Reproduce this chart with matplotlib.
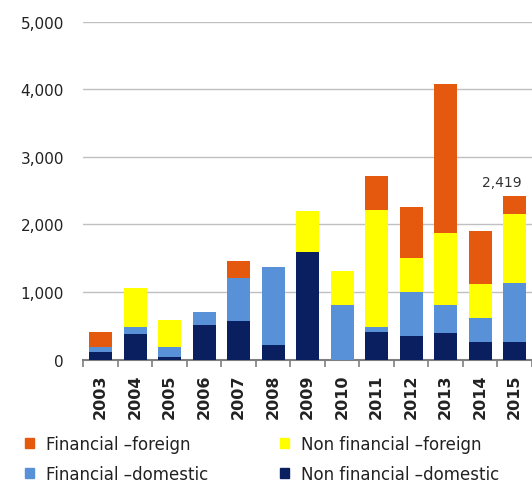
import numpy as np
import matplotlib
matplotlib.use("Agg")
import matplotlib.pyplot as plt
from matplotlib.patches import Patch

# data
years = ["2003", "2004", "2005", "2006", "2007", "2008", "2009",
         "2010", "2011", "2012", "2013", "2014", "2015"]
nonfin_domestic = [115, 380, 40, 515, 575, 215, 1590, 0, 400, 345, 390, 265, 255]
fin_domestic = [65, 105, 140, 195, 635, 1150, 0, 800, 85, 650, 420, 350, 885]
nonfin_foreign = [0, 570, 405, 0, 0, 0, 605, 510, 1735, 515, 1070, 500, 1015]
fin_foreign = [230, 0, 0, 0, 250, 0, 0, 0, 500, 755, 2200, 785, 264]
total_label = "2,419"

c_navy = "#0A1F5F"
c_blue = "#5891D8"
c_yellow = "#FFFF00"
c_orange = "#E4590D"

plt.rcParams["font.family"] = "DejaVu Sans"

fig = plt.figure(figsize=(5.32, 4.85), dpi=100)
ax = fig.add_axes([0.1566, 0.2567, 0.8434, 0.6959])

x = np.arange(len(years))
w = 0.67
b1 = np.array(nonfin_domestic)
b2 = b1 + np.array(fin_domestic)
b3 = b2 + np.array(nonfin_foreign)

ax.bar(x, nonfin_domestic, w, color=c_navy, zorder=3)
ax.bar(x, fin_domestic, w, bottom=b1, color=c_blue, zorder=3)
ax.bar(x, nonfin_foreign, w, bottom=b2, color=c_yellow, zorder=3)
ax.bar(x, fin_foreign, w, bottom=b3, color=c_orange, zorder=3)

tot = b3 + np.array(fin_foreign)
ax.annotate(total_label, xy=(x[-1], tot[-1]), xytext=(-9.5, 5.5),
            textcoords="offset points", ha="center", va="bottom",
            fontsize=10, color="#333333")

ax.set_ylim(0, 5000)
ax.set_xlim(-0.5, 12.32)
ax.set_yticks(np.arange(0, 5001, 1000))
ax.set_yticklabels(["0", "1,000", "2,000", "3,000", "4,000", "5,000"])
ax.grid(axis="y", color="#C0C0C0", lw=1, zorder=0)
ax.tick_params(axis="y", length=0, pad=14, labelsize=11, labelcolor="#222222")

ax.set_xticks(x)
ax.set_xticklabels(years, rotation=90, fontsize=11.5, fontweight="bold",
                   color="#222222")
ax.set_xticks(np.arange(-0.5, 13, 1), minor=True)
ax.tick_params(axis="x", which="major", length=0, pad=10)
ax.tick_params(axis="x", which="minor", length=5, color="#7F7F7F", width=1.2)

for s in ["top", "right", "left"]:
    ax.spines[s].set_visible(False)
ax.spines["bottom"].set_color("#7F7F7F")
ax.spines["bottom"].set_linewidth(1.5)

# legend, two columns placed separately
leg_kw = dict(loc="upper left", frameon=False, fontsize=12, handlelength=0.55,
              handleheight=0.55, handletextpad=0.7, labelspacing=0.75,
              borderpad=0, borderaxespad=0, labelcolor="#222222")
h1 = [Patch(color=c_orange), Patch(color=c_blue)]
fig.legend(h1, ["Financial \u2013foreign", "Financial \u2013domestic"],
           bbox_to_anchor=(0.047, 0.102), **leg_kw)
h2 = [Patch(color=c_yellow), Patch(color=c_navy)]
fig.legend(h2, ["Non financial \u2013foreign", "Non financial \u2013domestic"],
           bbox_to_anchor=(0.526, 0.102), **leg_kw)

fig.savefig("out.png", dpi=100)
